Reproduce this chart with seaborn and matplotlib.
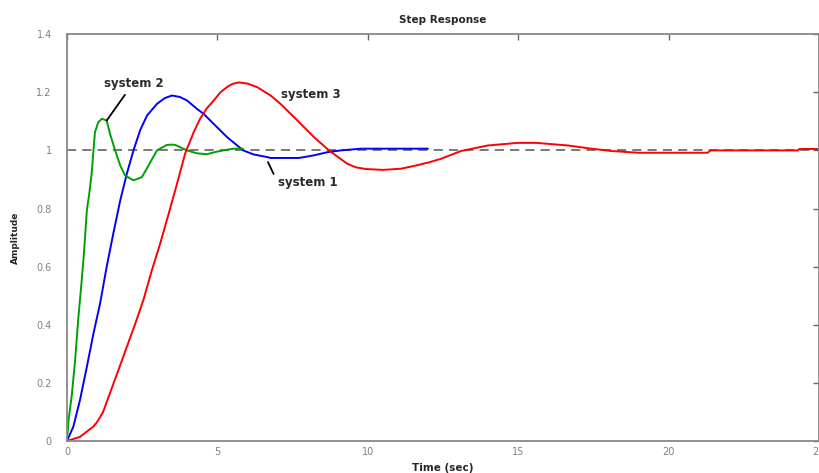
import pandas as pd
import matplotlib
matplotlib.use("Agg")
import matplotlib.pyplot as plt
import seaborn as sns

# Step response values

# system 1 (blue)
t_sys1 = [0, 0.21, 0.43, 0.66, 0.88, 1.10, 1.32, 1.54, 1.77, 1.99, 2.21, 2.43, 2.66,
          2.99, 3.25, 3.49, 3.75, 3.99, 4.32, 4.54, 4.88, 5.32, 5.66, 5.86, 6.21, 6.66,
          6.77, 7.71, 8.21, 8.66, 9.10, 9.77, 12.0]
a_sys1 = [0, 0.049, 0.14, 0.255, 0.37, 0.473, 0.60, 0.714, 0.828, 0.92, 1.0, 1.069, 1.12,
          1.16, 1.18, 1.189, 1.184, 1.172, 1.143, 1.126, 1.091, 1.046, 1.017, 1.0, 0.986, 0.977,
          0.974, 0.974, 0.983, 0.994, 1.0, 1.006, 1.006]

# system 2 (green)
t_sys2 = [0, 0.05, 0.16, 0.27, 0.38, 0.49, 0.57, 0.66, 0.74, 0.82, 0.88, 0.93, 1.04,
          1.16, 1.32, 1.43, 1.60, 1.77, 1.93, 2.21, 2.49, 2.71, 2.99, 3.32, 3.49, 3.60,
          3.99, 4.32, 4.66, 4.95, 5.30, 5.53, 5.85]
a_sys2 = [0, 0.07, 0.158, 0.278, 0.427, 0.553, 0.656, 0.794, 0.851, 0.92, 1.0, 1.063, 1.097,
          1.109, 1.103, 1.057, 1.0, 0.948, 0.914, 0.897, 0.908, 0.948, 1.0, 1.019, 1.02, 1.019,
          1.0, 0.99, 0.987, 0.995, 1.002, 1.006, 1.006]

# system 3 (red)
t_sys3 = [0, 0.43, 0.88, 1.0, 1.2, 1.43, 1.71, 1.99, 2.27, 2.54, 2.82, 3.10, 3.38, 3.66,
          3.93, 4.21, 4.43, 4.65, 4.88, 5.10, 5.32, 5.50, 5.71, 6.00, 6.32, 6.77, 7.10, 7.66,
          8.21, 8.71, 9.32, 9.60, 9.93, 10.5, 11.1, 11.6, 12.0, 12.43, 13.1, 13.99, 14.99,
          15.6, 16.66, 17.43, 18.1, 19.0, 21.3, 21.4, 24.3, 24.35, 25.0]
a_sys3 = [0, 0.014, 0.05, 0.065, 0.10, 0.165, 0.244, 0.324, 0.404, 0.485, 0.587, 0.68, 0.782,
          0.886, 0.99, 1.062, 1.11, 1.145, 1.172, 1.20, 1.218, 1.229, 1.234, 1.23, 1.218,
          1.189, 1.16, 1.103, 1.046, 1.0, 0.954, 0.942, 0.936, 0.933, 0.937, 0.948, 0.958,
          0.971, 0.998, 1.017, 1.026, 1.026, 1.017, 1.006, 0.998, 0.992, 0.992, 1.0, 1.0,
          1.005, 1.005]

final_value = 1.0
x_ticks = [0, 5, 10, 15, 20, 25]
x_tick_labels = ["0", "5", "10", "15", "20", "25"]
y_ticks = [0, 0.2, 0.4, 0.6, 0.8, 1.0, 1.2, 1.4]
y_tick_labels = ["0", "0.2", "0.4", "0.6", "0.8", "1", "1.2", "1.4"]

colors = {"system 1": "#0000ff", "system 2": "#00a000", "system 3": "#ff0000"}

df = pd.concat([
    pd.DataFrame({"Time": t_sys1, "Amplitude": a_sys1, "System": "system 1"}),
    pd.DataFrame({"Time": t_sys2, "Amplitude": a_sys2, "System": "system 2"}),
    pd.DataFrame({"Time": t_sys3, "Amplitude": a_sys3, "System": "system 3"}),
], ignore_index=True)

sns.set_style("white")
plt.rcParams["font.family"] = ["DejaVu Sans"]

fig = plt.figure(figsize=(8.2, 4.73), dpi=100)
ax = fig.add_axes([0.0817, 0.0677, 0.917, 0.860])

# dashed steady-state line
ax.axhline(final_value, color="#555555", lw=1.1, dashes=(6, 4), zorder=1)

sns.lineplot(data=df, x="Time", y="Amplitude", hue="System", palette=colors,
             estimator=None, sort=False, legend=False, linewidth=1.4, ax=ax, zorder=2)

ax.set_xlim(0, 25)
ax.set_ylim(0, 1.4)
ax.set_xticks(x_ticks)
ax.set_xticklabels(x_tick_labels)
ax.set_yticks(y_ticks)
ax.set_yticklabels(y_tick_labels)

for s in ax.spines.values():
    s.set_color("#888888")
    s.set_linewidth(1.3)

ax.tick_params(direction="in", length=4, width=1, color="#666666",
               top=True, right=True, labelsize=7, labelcolor="#808080")
ax.tick_params(axis="y", pad=11)
ax.tick_params(axis="x", pad=4)

ax.set_title("Step Response", fontsize=7.5, fontweight="bold", pad=8)
ax.set_xlabel("Time (sec)", fontsize=7.5, fontweight="bold", labelpad=5)
ax.set_ylabel("Amplitude", fontsize=6.5, fontweight="bold", labelpad=12)

# labels with leader lines
txt_kw = dict(fontsize=8.5, fontweight="bold", color="#2a2a2a")
ax.annotate("system 2", xy=(1.32, 1.103), xytext=(2.23, 1.229),
            ha="center", va="center",
            arrowprops=dict(arrowstyle="-", color="black", lw=1.3,
                            relpos=(0.4, 0.0), shrinkA=1, shrinkB=0), **txt_kw)
ax.annotate("system 1", xy=(6.68, 0.96), xytext=(7.0, 0.891),
            ha="left", va="center",
            arrowprops=dict(arrowstyle="-", color="black", lw=1.3,
                            relpos=(0.0, 0.5), shrinkA=1, shrinkB=0), **txt_kw)
ax.text(7.1, 1.192, "system 3", ha="left", va="center", **txt_kw)

plt.savefig("out.png", dpi=100)
